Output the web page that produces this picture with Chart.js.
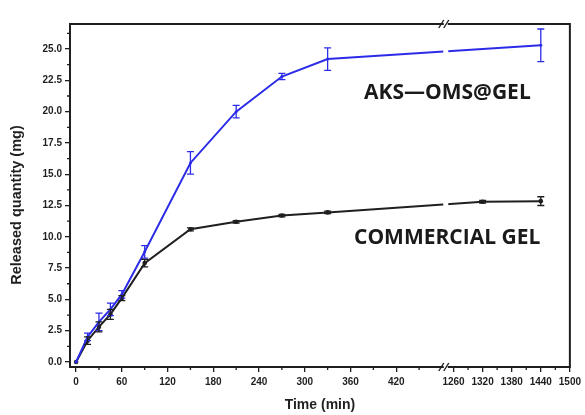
<!DOCTYPE html>
<html>
<head>
<meta charset="utf-8">
<script src="https://cdn.jsdelivr.net/npm/chart.js@4"></script>
<style>
  html, body { margin: 0; padding: 0; background: #fff; }
  #wrap { width: 585px; height: 415px; }
</style>
</head>
<body>
<div id="wrap"><canvas id="c" width="585" height="415"></canvas></div>
<script>
// Release time points (min) for each formulation
const timesAks = [0, 15, 30, 45, 60, 90, 150, 210, 270, 330, 1440];
const timesCommercial = [0, 15, 30, 45, 60, 90, 150, 210, 270, 330, 1320, 1440];

// Released quantity (mg) and standard deviation
const releasedAks = [0, 2.0, 3.2, 4.2, 5.4, 8.8, 15.9, 20.0, 22.8, 24.2, 25.3];
const errAks = [0, 0.3, 0.7, 0.5, 0.3, 0.5, 0.9, 0.5, 0.25, 0.9, 1.3];
const releasedCommercial = [0, 1.7, 2.8, 3.8, 5.1, 7.9, 10.6, 11.2, 11.7, 11.95, 12.8, 12.85];
const errCommercial = [0, 0.3, 0.4, 0.4, 0.2, 0.3, 0.12, 0.1, 0.1, 0.1, 0.1, 0.35];

// Axis tick values
const xTickTimes = [0, 60, 120, 180, 240, 300, 360, 420, 1260, 1320, 1380, 1440, 1500];
const xMinorTimes = [30, 90, 150, 210, 270, 330, 390, 450, 1290, 1350, 1410, 1470];
const yTickValues = [0, 2.5, 5, 7.5, 10, 12.5, 15, 17.5, 20, 22.5, 25];
const yMinorValues = [1.25, 3.75, 6.25, 8.75, 11.25, 13.75, 16.25, 18.75, 21.25, 23.75, 26.25];

// Broken time axis: 0-485 min at full scale, 1244 min onwards compressed
const BREAK_LO = 485, BREAK_HI = 1244, COMPRESS = 0.636;
function axisPos(t) { return t <= BREAK_LO ? t : BREAK_LO + (t - BREAK_HI) * COMPRESS; }
function axisTime(u) { return u <= BREAK_LO ? u : BREAK_HI + (u - BREAK_LO) / COMPRESS; }

const toPoints = (ts, vs) => ts.map((t, i) => ({ x: axisPos(t), y: vs[i] }));

const INK = '#1f1f1f';
const BLUE = '#2c2ce8';
const SANS = '"Liberation Sans", Arial, sans-serif';

// Error bars, minor ticks, frame with axis break, and series labels
const decorations = {
  id: 'decorations',
  afterDatasetsDraw(chart) {
    const { ctx, chartArea: a, scales: { x, y } } = chart;
    ctx.save();
    // error bars
    chart.data.datasets.forEach((ds) => {
      ctx.strokeStyle = ds.borderColor;
      ctx.lineWidth = 1.3;
      ds.data.forEach((p, i) => {
        const e = ds.errors[i];
        if (!e) return;
        const px = x.getPixelForValue(p.x);
        const top = y.getPixelForValue(p.y + e);
        const bot = y.getPixelForValue(p.y - e);
        ctx.beginPath();
        ctx.moveTo(px, top); ctx.lineTo(px, bot);
        ctx.moveTo(px - 3.5, top); ctx.lineTo(px + 3.5, top);
        ctx.moveTo(px - 3.5, bot); ctx.lineTo(px + 3.5, bot);
        ctx.stroke();
      });
    });

    const xb = x.getPixelForValue(BREAK_LO);
    // gap in the curves at the axis break
    ctx.fillStyle = '#fff';
    ctx.fillRect(xb - 2.5, a.top + 2, 5, a.bottom - a.top - 4);

    // minor ticks
    ctx.strokeStyle = INK;
    ctx.lineWidth = 1.3;
    ctx.beginPath();
    xMinorTimes.forEach((t) => {
      const px = x.getPixelForValue(axisPos(t));
      ctx.moveTo(px, a.bottom); ctx.lineTo(px, a.bottom + 3);
    });
    yMinorValues.forEach((v) => {
      const py = y.getPixelForValue(v);
      ctx.moveTo(a.left, py); ctx.lineTo(a.left - 3, py);
    });
    ctx.stroke();

    // frame with gaps at the break
    ctx.lineWidth = 2;
    ctx.beginPath();
    ctx.moveTo(a.left, a.top); ctx.lineTo(a.left, a.bottom);
    ctx.moveTo(a.right, a.top); ctx.lineTo(a.right, a.bottom);
    ctx.moveTo(a.left - 1, a.top); ctx.lineTo(xb - 2, a.top);
    ctx.moveTo(xb + 2, a.top); ctx.lineTo(a.right + 1, a.top);
    ctx.moveTo(a.left - 1, a.bottom); ctx.lineTo(xb - 2, a.bottom);
    ctx.moveTo(xb + 2, a.bottom); ctx.lineTo(a.right + 1, a.bottom);
    ctx.stroke();

    // break marks
    ctx.lineWidth = 1.4;
    ctx.beginPath();
    [a.top, a.bottom].forEach((yy) => {
      ctx.moveTo(xb - 7, yy + 4); ctx.lineTo(xb - 2, yy - 4);
      ctx.moveTo(xb - 2, yy + 4); ctx.lineTo(xb + 3, yy - 4);
    });
    ctx.stroke();

    // y-axis title
    ctx.fillStyle = INK;
    ctx.save();
    ctx.translate(17, 205);
    ctx.rotate(-Math.PI / 2);
    ctx.textAlign = 'center';
    ctx.textBaseline = 'middle';
    ctx.font = 'bold 14.5px ' + SANS;
    ctx.fillText('Released quantity (mg)', 0, 0);
    ctx.restore();

    // series labels
    ctx.fillStyle = '#1a1a1a';
    ctx.textBaseline = 'middle';
    ctx.textAlign = 'left';
    ctx.font = 'bold 21px "Open Sans", sans-serif';
    ctx.fillText('AKS\u2014OMS@GEL', 364, 93);
    ctx.fillText('COMMERCIAL GEL', 354, 238);
    ctx.restore();
  }
};

new Chart(document.getElementById('c'), {
  type: 'line',
  data: {
    datasets: [
      {
        label: 'AKS\u2014OMS@GEL',
        data: toPoints(timesAks, releasedAks),
        errors: errAks,
        borderColor: BLUE,
        backgroundColor: BLUE,
        borderWidth: 2,
        pointRadius: 1.5,
        pointBorderWidth: 0,
        tension: 0
      },
      {
        label: 'COMMERCIAL GEL',
        data: toPoints(timesCommercial, releasedCommercial),
        errors: errCommercial,
        borderColor: INK,
        backgroundColor: INK,
        borderWidth: 2,
        pointRadius: 2.3,
        pointBorderWidth: 0,
        tension: 0
      }
    ]
  },
  options: {
    responsive: false,
    animation: false,
    devicePixelRatio: 1,
    layout: { padding: { top: 24, right: 12, left: 0, bottom: 0 } },
    plugins: { legend: { display: false }, tooltip: { enabled: false } },
    scales: {
      x: {
        type: 'linear',
        min: -8,
        max: axisPos(1500),
        afterBuildTicks(scale) { scale.ticks = xTickTimes.map((t) => ({ value: axisPos(t) })); },
        afterFit(scale) { scale.height = 48; },
        ticks: {
          autoSkip: false, maxRotation: 0, padding: 4, color: INK,
          font: { family: SANS, size: 10, weight: 'bold' },
          callback: (v) => String(Math.round(axisTime(v)))
        },
        grid: { drawOnChartArea: false, drawTicks: true, tickLength: 5, color: INK, lineWidth: 1.3 },
        border: { display: false },
        title: {
          display: true, text: 'Time (min)', color: INK, padding: { top: 0, bottom: 1 },
          font: { family: SANS, size: 14, weight: 'bold' }
        }
      },
      y: {
        type: 'linear',
        min: -0.4,
        max: 27,
        afterBuildTicks(scale) { scale.ticks = yTickValues.map((v) => ({ value: v })); },
        afterFit(scale) { scale.width = 70; },
        ticks: {
          padding: 3, color: INK,
          font: { family: SANS, size: 10, weight: 'bold' },
          callback: (v) => v.toFixed(1)
        },
        grid: { drawOnChartArea: false, drawTicks: true, tickLength: 5, color: INK, lineWidth: 1.3 },
        border: { display: false }
      }
    }
  },
  plugins: [decorations]
});
</script>
</body>
</html>
